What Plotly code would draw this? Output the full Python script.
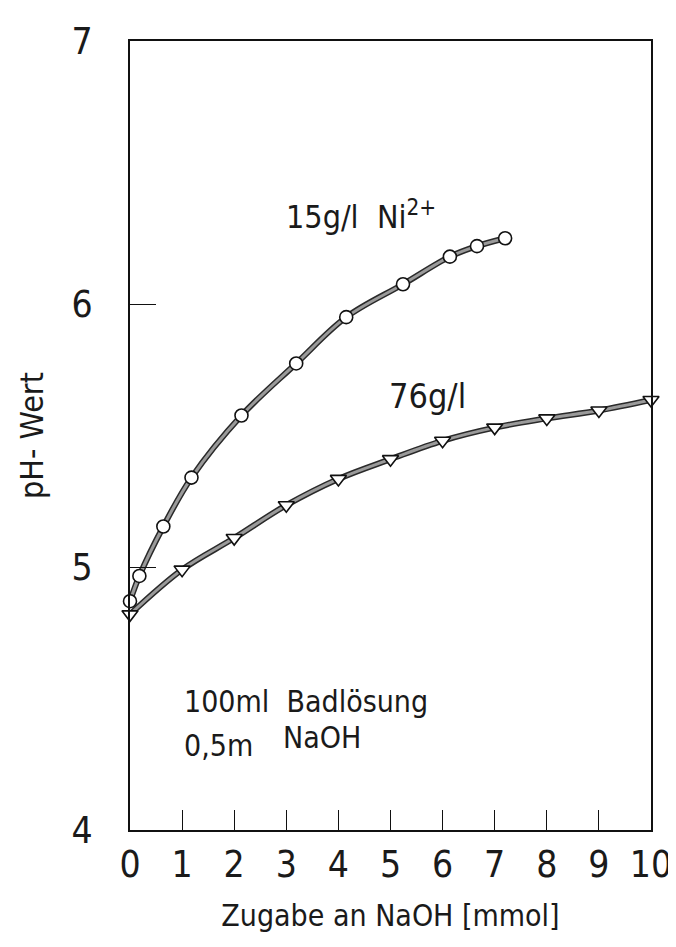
import plotly.graph_objects as go

# ---- data ----
x_ni15 = [0, 0.18, 0.64, 1.18, 2.14, 3.19, 4.15, 5.24, 6.14, 6.66, 7.2]
ph_ni15 = [4.87, 4.966, 5.154, 5.34, 5.576, 5.774, 5.95, 6.075, 6.18, 6.22, 6.25]

x_ni76 = [0, 1, 2, 3, 4, 5, 6, 7, 8, 9, 10]
ph_ni76 = [4.82, 4.99, 5.11, 5.235, 5.335, 5.41, 5.48, 5.53, 5.565, 5.595, 5.635]

x_ticks = [0, 1, 2, 3, 4, 5, 6, 7, 8, 9, 10]
x_ticklabels = ["0", "1", "2", "3", "4", "5", "6", "7", "8", "9", "10"]
y_ticks = [4, 5, 6, 7]
y_ticklabels = ["4", "5", "6", "7"]

FONT = "DejaVu Sans Condensed, Liberation Sans Narrow, sans-serif"
TXT = "#1a1a1a"

fig = go.Figure()

for xs, ys in [(x_ni15, ph_ni15), (x_ni76, ph_ni76)]:
    fig.add_trace(go.Scatter(x=xs, y=ys, mode="lines", cliponaxis=False,
                             line=dict(color="#2a2a2a", width=6, shape="spline", smoothing=1.0),
                             hoverinfo="skip", showlegend=False))
    fig.add_trace(go.Scatter(x=xs, y=ys, mode="lines", cliponaxis=False,
                             line=dict(color="#9a9a9a", width=3, shape="spline", smoothing=1.0),
                             hoverinfo="skip", showlegend=False))

fig.add_trace(go.Scatter(x=x_ni15, y=ph_ni15, mode="markers", name="15g/l Ni2+", cliponaxis=False,
                         marker=dict(symbol="circle", size=13, color="white",
                                     line=dict(color="#111", width=1.6)),
                         showlegend=False))
fig.add_trace(go.Scatter(x=x_ni76, y=ph_ni76, mode="markers", name="76g/l", cliponaxis=False,
                         marker=dict(symbol="triangle-down", size=14, color="white",
                                     line=dict(color="#111", width=1.6)),
                         showlegend=False))

fig.update_layout(
    width=676, height=947,
    margin=dict(l=122, r=20, t=24, b=125),
    paper_bgcolor="white", plot_bgcolor="white",
    font=dict(family=FONT, color=TXT, size=34),
    xaxis=dict(range=[0, 10], tickmode="array", tickvals=x_ticks, ticktext=x_ticklabels,
               ticks="inside", ticklen=20, tickwidth=1.3, tickcolor="#111",
               showline=True, mirror=True, linecolor="#111", linewidth=2,
               showgrid=False, zeroline=False,
               tickfont=dict(family=FONT, size=37, color=TXT),
               ticklabelstandoff=1, ticklabeloverflow="allow",
               title=dict(text="Zugabe an NaOH [mmol]", standoff=20,
                          font=dict(family=FONT, size=30, color=TXT))),
    yaxis=dict(range=[4, 7], tickmode="array", tickvals=y_ticks, ticktext=y_ticklabels,
               ticks="inside", ticklen=26, tickwidth=1.3, tickcolor="#111",
               showline=True, mirror=True, linecolor="#111", linewidth=2,
               showgrid=False, zeroline=False,
               tickfont=dict(family=FONT, size=37, color=TXT),
               ticklabelstandoff=28, ticklabeloverflow="allow",
               title=dict(text="pH- Wert", standoff=18,
                          font=dict(family=FONT, size=32, color=TXT))),
)

fig.add_annotation(x=2.96, y=6.34, xref="x", yref="y", xanchor="left", yanchor="middle",
                   text="15g/l  Ni<sup>2+</sup>", showarrow=False,
                   font=dict(family=FONT, size=32, color=TXT))
fig.add_annotation(x=4.93, y=5.65, xref="x", yref="y", xanchor="left", yanchor="middle",
                   text="76g/l", showarrow=False,
                   font=dict(family=FONT, size=34, color=TXT))
fig.add_annotation(x=0.99, y=4.49, xref="x", yref="y", xanchor="left", yanchor="middle",
                   text="100ml  Badlösung", showarrow=False,
                   font=dict(family=FONT, size=30, color=TXT))
fig.add_annotation(x=0.99, y=4.323, xref="x", yref="y", xanchor="left", yanchor="middle",
                   text="0,5m", showarrow=False,
                   font=dict(family=FONT, size=30, color=TXT))
fig.add_annotation(x=2.9, y=4.353, xref="x", yref="y", xanchor="left", yanchor="middle",
                   text="NaOH", showarrow=False,
                   font=dict(family=FONT, size=30, color=TXT))

fig.write_html("out.html")
